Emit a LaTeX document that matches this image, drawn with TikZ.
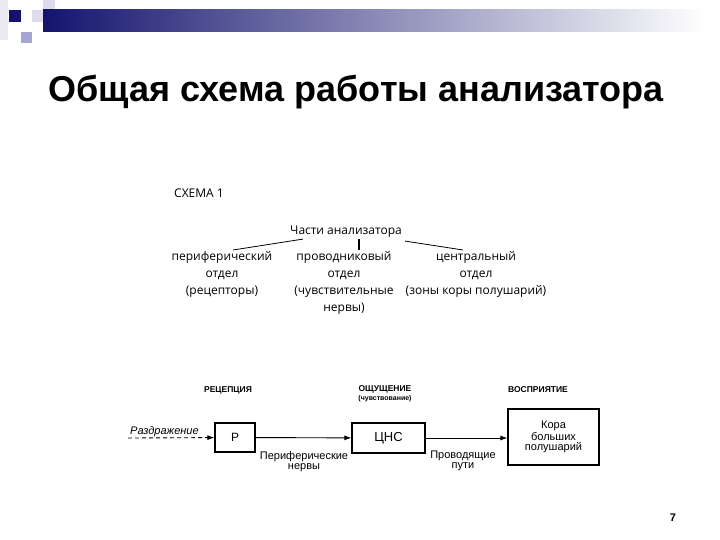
\documentclass[tikz,border=0pt]{standalone}
\usepackage{fontspec}
\setmainfont{Liberation Sans}
\newfontfamily\schemefont{Open Sans}
\usetikzlibrary{arrows.meta, positioning, calc}

\definecolor{slidenavy}{RGB}{20,20,110}
\definecolor{slidelilac}{RGB}{165,165,210}
\definecolor{slidepale}{RGB}{220,220,238}

\begin{document}
\begin{tikzpicture}[
    x=1pt, y=-1pt,
    slidetitle/.style={font=\fontsize{36}{40}\selectfont\bfseries},
    scheme/.style={font=\schemefont\fontsize{12}{17}\selectfont, align=center},
    stage/.style={font=\fontsize{8.5}{9}\selectfont\bfseries, align=center},
    stagebox/.style={rectangle, draw=black, line width=1.2pt, align=center, font=\fontsize{11}{10}\selectfont},
    pathnote/.style={font=\fontsize{11}{10}\selectfont, align=center},
    arrow/.style={-{Latex[length=7pt, width=5pt]}, line width=0.9pt},
    every node/.style={inner sep=1pt}
]
\useasboundingbox (0,0) rectangle (720,540);

% =================== SLIDE DECORATION ===================
\fill[slidepale!60] (0,0) rectangle (8,40);
\fill[slidenavy] (9,10) rectangle (21,22);
\fill[slidepale] (32,10) rectangle (43,22);
\fill[slidepale] (43,0) rectangle (55,10);
\fill[slidelilac] (21,32) rectangle (32,43);
\shade[left color=slidenavy, right color=white] (43,10) rectangle (705,32);

% Title
\node[slidetitle, anchor=base] (title) at (356,102) {Общая схема работы анализатора};

% =================== SCHEME 1 ===================
\node[scheme, anchor=base west] (schemeno) at (173,198) {СХЕМА 1};
\node[scheme, anchor=base] (parts) at (346,235) {Части анализатора};

\node[scheme, anchor=north] (periph) at (222,250)
    {периферический\\отдел\\(рецепторы)};
\node[scheme, anchor=north] (conduct) at (344,250)
    {проводниковый\\отдел\\(чувствительные\\нервы)};
\node[scheme, anchor=north] (central) at (476,250)
    {центральный\\отдел\\(зоны коры полушарий)};

\draw[line width=0.8pt] ([xshift=-43pt]parts.south) -- ([xshift=11pt]periph.north);
\draw[line width=1.6pt] ([xshift=13pt]parts.south) -- ([xshift=15pt]conduct.north);
\draw[line width=0.8pt] ([xshift=2pt,yshift=-2pt]parts.south east) -- ([xshift=-13pt]central.north);

% =================== STAGES ===================
\node[stage, anchor=base] (recep) at (228,392) {РЕЦЕПЦИЯ};
\node[stage, anchor=north] (sens) at (385,384)
    {ОЩУЩЕНИЕ\\{\fontsize{7}{7}\selectfont(чувствование)}};
\node[stage, anchor=base] (percep) at (538,392) {ВОСПРИЯТИЕ};

% Boxes
\node[stagebox, minimum width=40, minimum height=29, font=\fontsize{12}{12}\selectfont] (rec) at (235,437.5) {Р};
\node[stagebox, minimum width=73, minimum height=30, font=\fontsize{13}{13}\selectfont] (cns) at (388.5,438) {ЦНС};
\node[stagebox, minimum width=91, minimum height=56] (cortex) at (553.5,437)
    {Кора\\больших\\полушарий};

% Stimulus
\coordinate (stim) at (128,438);
\node[pathnote, font=\fontsize{11}{10}\selectfont\itshape, anchor=base west] (stimtext) at (129,434) {Раздражение};
\draw[arrow, dashed, dash pattern=on 4pt off 3pt] (stim) -- (rec);

% Connections
\draw[arrow] (rec) -- (cns);
\draw[arrow] (cns.east) -- (cns.east -| cortex.west);

\node[pathnote, anchor=north] (nerves) at (304,450) {Периферические\\нервы};
\node[pathnote, anchor=north] (tracts) at (463,450) {Проводящие\\пути};

% Page number
\node[font=\fontsize{11}{12}\selectfont\bfseries, anchor=base] (page) at (673,521) {7};

\end{tikzpicture}
\end{document}
